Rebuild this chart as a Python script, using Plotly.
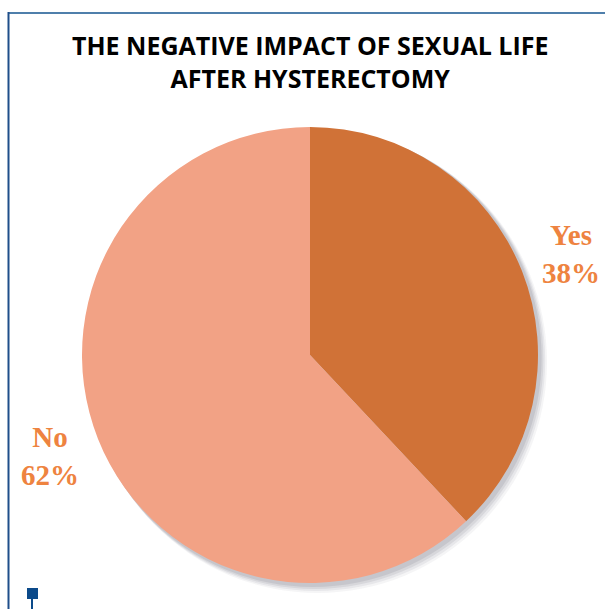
import plotly.graph_objects as go

categories = ["Yes", "No"]
values = [38, 62]
colors = ["#D07237", "#F2A285"]
title_lines = ["THE NEGATIVE IMPACT OF SEXUAL LIFE", "AFTER HYSTERECTOMY"]

W, H = 605, 609
cx, cy, r = 310, 355, 228

fig = go.Figure()
fig.add_trace(go.Pie(
    labels=categories, values=values, sort=False, direction="clockwise",
    rotation=0, marker=dict(colors=colors, line=dict(width=0)),
    textinfo="none", hoverinfo="label+percent", showlegend=False,
    domain=dict(x=[(cx - r) / W, (cx + r) / W], y=[(H - cy - r) / H, (H - cy + r) / H]),
))

shapes = []
# soft shadow behind pie
for off, op in [(10, 0.05), (8, 0.07), (6, 0.09), (4, 0.11)]:
    shapes.append(dict(type="circle", xref="paper", yref="paper", layer="below",
                       x0=(cx - r + off * 0.6) / W, x1=(cx + r + off * 0.9) / W,
                       y0=(H - cy - r - off) / H, y1=(H - cy + r - off * 0.4) / H,
                       fillcolor=f"rgba(60,60,80,{op})", line=dict(width=0)))
# frame
shapes.append(dict(type="line", xref="paper", yref="paper", x0=8 / W, x1=1, y0=(H - 13) / H, y1=(H - 13) / H,
                   line=dict(color="#4F7FAB", width=2)))
shapes.append(dict(type="line", xref="paper", yref="paper", x0=8.5 / W, x1=8.5 / W, y0=0, y1=(H - 12) / H,
                   line=dict(color="#1F4E8A", width=2)))
shapes.append(dict(type="rect", xref="paper", yref="paper", x0=27 / W, x1=38 / W, y0=(H - 599) / H, y1=(H - 588) / H,
                   fillcolor="#0B4A8A", line=dict(width=0)))
shapes.append(dict(type="line", xref="paper", yref="paper", x0=32 / W, x1=32 / W, y0=0, y1=(H - 599) / H,
                   line=dict(color="#0B4A8A", width=2)))

label_pos = {"Yes": (571, 254), "No": (50, 456)}
total = sum(values)
annotations = []
for c, v in zip(categories, values):
    x, y = label_pos[c]
    annotations.append(dict(x=x / W, y=(H - y) / H, xref="paper", yref="paper",
                            text=f"<b>{c}<br>{round(100 * v / total)}%</b>", showarrow=False,
                            font=dict(family="Liberation Serif", size=29, color="#EE8340"),
                            align="center", xanchor="center", yanchor="middle"))
annotations.append(dict(x=310 / W, y=(H - 62) / H, xref="paper", yref="paper",
                        text="<b>" + "<br>".join(title_lines) + "</b>", showarrow=False,
                        font=dict(family="Open Sans", size=25, color="#000000"),
                        align="center", xanchor="center", yanchor="middle"))

fig.update_layout(width=W, height=H, margin=dict(l=0, r=0, t=0, b=0),
                  paper_bgcolor="white", plot_bgcolor="white",
                  shapes=shapes, annotations=annotations)
fig.write_html("out.html", config={"displayModeBar": False},
               post_script="document.body.style.margin='0px';document.body.style.overflow='hidden';")
